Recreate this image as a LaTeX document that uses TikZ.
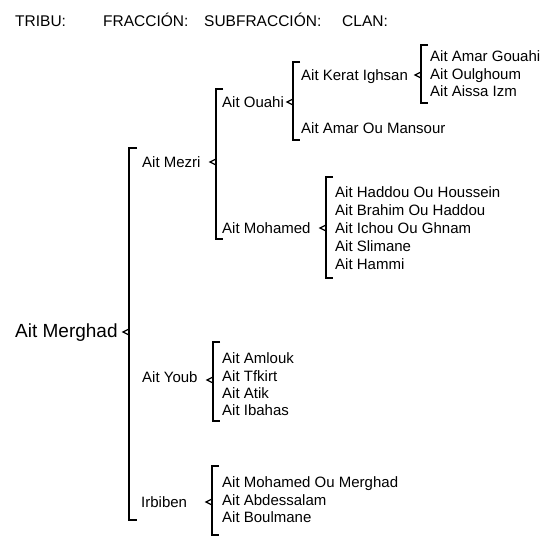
\documentclass[tikz,border=0pt]{standalone}
\usepackage{fontspec,tikz}
\setmainfont{Liberation Sans}

\begin{document}
\begin{tikzpicture}[x=1pt,y=-1pt,
  lbl/.style={anchor=base west,inner sep=0pt,font=\fontsize{15.0}{18.0}\selectfont},
  hdr/.style={anchor=base west,inner sep=0pt,font=\fontsize{15.5}{18.6}\selectfont},
  corchete/.style={line width=1.8pt},
  muesca/.style={line width=1.3pt}]
\path[use as bounding box,fill=white] (0,0) rectangle (551.0,551.0);
% encabezado
\node[hdr] (tribu) at (15,27) {TRIBU:};
\node[hdr] (fraccion) at (103,27) {FRACCIÓN:};
\node[hdr] (subfraccion) at (204,27) {SUBFRACCIÓN:};
\node[hdr] (clan) at (342,27) {CLAN:};
% tribu
\node[anchor=base west,inner sep=0pt,font=\fontsize{19.0}{22.8}\selectfont] (merghad) at (15,337) {Ait Merghad};
\draw[corchete] (137,148) -- (129,148) -- (129,520) -- (137,520);
\draw[muesca] (129,329) -- (123,332) -- (129,335);
% fracciones
\node[lbl] (mezri) at (142,167) {Ait Mezri};
\node[lbl] (youb) at (142,382) {Ait Youb};
\node[lbl] (irbiben) at (141,507) {Irbiben};
% Ait Mezri
\draw[corchete] (223,89) -- (216,89) -- (216,239) -- (223,239);
\draw[muesca] (216,159) -- (210,162) -- (216,165);
\node[lbl] (ouahi) at (222,107) {Ait Ouahi};
\node[lbl] (mohamed) at (222,233) {Ait Mohamed};
% Ait Ouahi
\draw[corchete] (300,62) -- (293,62) -- (293,140) -- (300,140);
\draw[muesca] (293,99) -- (287,102) -- (293,105);
\node[lbl] (kerat) at (301,80) {Ait Kerat Ighsan};
\node[lbl] (mansour) at (301,133) {Ait Amar Ou Mansour};
% Ait Kerat Ighsan
\draw[corchete] (428,45) -- (421,45) -- (421,103) -- (428,103);
\draw[muesca] (421,72) -- (415,75) -- (421,78);
\node[lbl] (gouahi) at (430,62) {Ait Amar Gouahi};
\node[lbl] (oulghoum) at (430,79) {Ait Oulghoum};
\node[lbl] (aissa) at (430,96) {Ait Aissa Izm};
% Ait Mohamed
\draw[corchete] (333,177) -- (326,177) -- (326,278) -- (333,278);
\draw[muesca] (326,225) -- (320,228) -- (326,231);
\node[lbl] (haddou) at (335,197) {Ait Haddou Ou Houssein};
\node[lbl] (brahim) at (335,215) {Ait Brahim Ou Haddou};
\node[lbl] (ichou) at (335,233) {Ait Ichou Ou Ghnam};
\node[lbl] (slimane) at (335,251) {Ait Slimane};
\node[lbl] (hammi) at (335,269) {Ait Hammi};
% Ait Youb
\draw[corchete] (220,342) -- (213,342) -- (213,421) -- (220,421);
\draw[muesca] (213,377) -- (207,380) -- (213,383);
\node[lbl] (amlouk) at (222,363) {Ait Amlouk};
\node[lbl] (tfkirt) at (222,381) {Ait Tfkirt};
\node[lbl] (atik) at (222,398) {Ait Atik};
\node[lbl] (ibahas) at (222,415) {Ait Ibahas};
% Irbiben
\draw[corchete] (219,466) -- (212,466) -- (212,535) -- (219,535);
\draw[muesca] (212,499) -- (206,502) -- (212,505);
\node[lbl] (mohamedmerghad) at (222,487) {Ait Mohamed Ou Merghad};
\node[lbl] (abdessalam) at (222,505) {Ait Abdessalam};
\node[lbl] (boulmane) at (222,522) {Ait Boulmane};
\end{tikzpicture}
\end{document}
